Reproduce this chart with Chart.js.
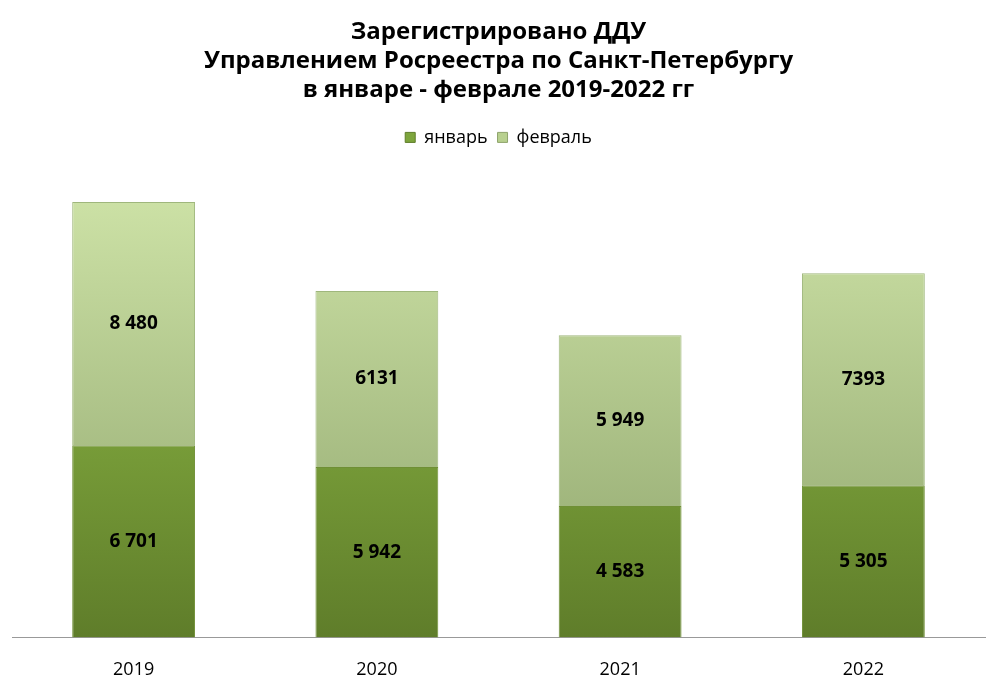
<!DOCTYPE html>
<html><head><meta charset="utf-8">
<script src="https://cdn.jsdelivr.net/npm/chart.js@4/dist/chart.umd.min.js"></script>
<style>html,body{margin:0;background:#fff}#w{width:1000px;height:699px}</style>
</head><body><div id="w"><canvas id="c"></canvas></div>
<script>
const categories=["2019","2020","2021","2022"];
const january=[6701,5942,4583,5305];
const february=[8480,6131,5949,7393];
const janLabels=["6 701","5 942","4 583","5 305"];
const febLabels=["8 480","6131","5 949","7393"];
const F="'Open Sans', 'DejaVu Sans', sans-serif";
function grad(ctx,top,bot){
  const c=ctx.chart, a=c.chartArea; if(!a) return top;
  const el=ctx.element;
  let y0=a.top,y1=a.bottom;
  if(el&&el.y!==undefined&&el.base!==undefined&&isFinite(el.y)){y0=el.y;y1=el.base;}
  const g=c.ctx.createLinearGradient(0,y0,0,y1);
  g.addColorStop(0,top);g.addColorStop(1,bot);return g;
}
const labelPlugin={id:'lbl',afterDatasetsDraw(chart){
  const ctx=chart.ctx;ctx.save();ctx.font="bold 19px "+F;ctx.fillStyle="#000";ctx.textAlign="center";ctx.textBaseline="middle";
  [janLabels,febLabels].forEach((labs,di)=>{chart.getDatasetMeta(di).data.forEach((b,i)=>{ctx.fillText(labs[i],b.x,(b.y+b.base)/2);});});
  ctx.restore();}};
new Chart(document.getElementById('c'),{type:'bar',
data:{labels:categories,datasets:[
 {label:'январь',data:january,backgroundColor:c=>grad(c,'#98c64c','#5f7d2a'),borderColor:'#6f8f35',borderWidth:1,categoryPercentage:1,barPercentage:0.505},
 {label:'февраль',data:february,backgroundColor:c=>grad(c,'#cfe4a8','#8ea46c'),borderColor:'#9fb77c',borderWidth:1,categoryPercentage:1,barPercentage:0.505}]},
options:{responsive:true,maintainAspectRatio:false,animation:false,
 layout:{padding:{left:12,right:15,top:12,bottom:4}},
 plugins:{title:{display:true,text:['Зарегистрировано ДДУ','Управлением Росреестра по Санкт-Петербургу','в январе - феврале 2019-2022 гг'],font:{family:F,size:24,weight:'bold'},color:'#000',lineHeight:1.6,padding:{top:6,bottom:14}},
  legend:{labels:{font:{family:F,size:18},color:'#000',boxWidth:10,boxHeight:10,padding:10,
   generateLabels:ch=>[{text:'январь',fillStyle:'#7da53c',strokeStyle:'#5f7d2a',lineWidth:1,datasetIndex:0},{text:'февраль',fillStyle:'#b8d08f',strokeStyle:'#8ea46c',lineWidth:1,datasetIndex:1}]},padding:{bottom:20}},
  tooltip:{enabled:false}},
 scales:{x:{stacked:true,grid:{display:false},border:{color:'#999'},ticks:{font:{family:F,size:18},color:'#000',padding:14}},
  y:{stacked:true,min:0,max:16000,display:false}}},
plugins:[{id:'legpad',beforeInit(c){const f=c.legend.fit;c.legend.fit=function(){f.bind(c.legend)();this.height+=22;};}},labelPlugin]});
</script></body></html>
